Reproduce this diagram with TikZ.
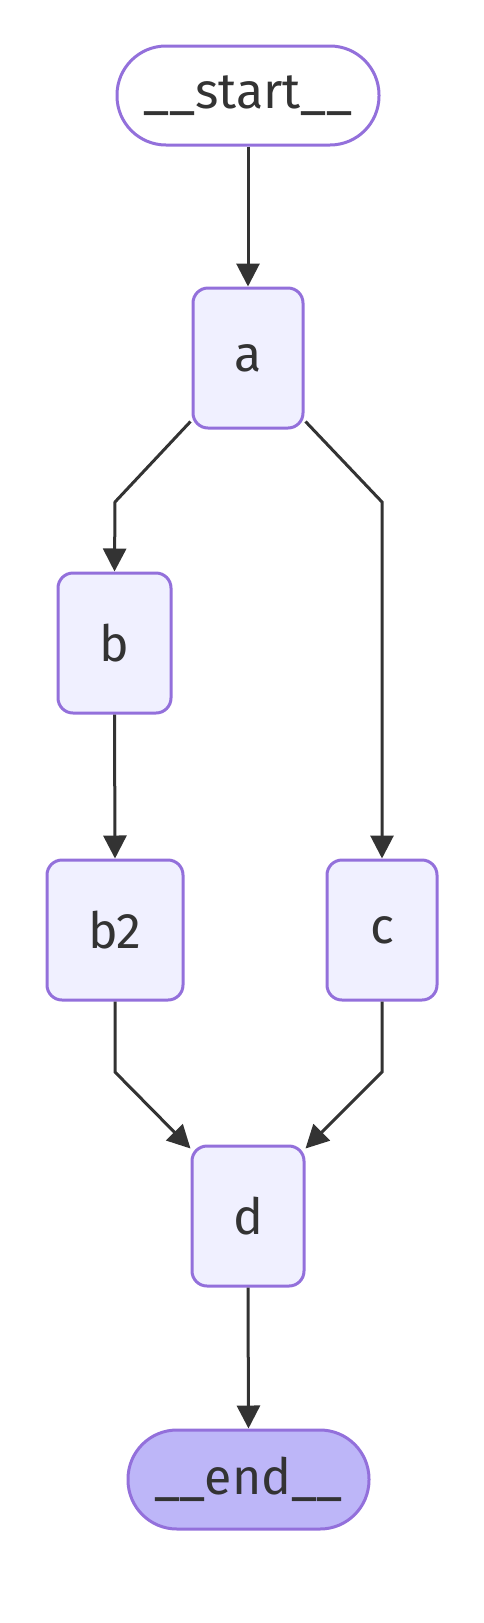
\documentclass[tikz,border=0pt]{standalone}
\usepackage{fontspec}
\setmainfont{Fira Sans}
\usetikzlibrary{arrows.meta}
\definecolor{nodefill}{HTML}{F0F0FF}
\definecolor{nodeline}{HTML}{9370DB}
\definecolor{endfill}{HTML}{BDB6F8}
\definecolor{ink}{HTML}{333333}
\begin{document}
\begin{tikzpicture}[x=1pt,y=-1pt,
  box/.style={draw=nodeline, fill=nodefill, line width=3pt, rounded corners=15pt,
    minimum height=140pt, inner sep=0pt, text=ink, font=\fontsize{50}{56}\selectfont},
  term/.style={draw=nodeline, line width=3pt, rounded corners=49pt,
    minimum height=99pt, inner sep=0pt, text=ink, font=\fontsize{50}{56}\selectfont},
  edge/.style={draw=ink, line width=3pt, -{Triangle[length=23pt,width=23pt]}}]
\useasboundingbox (0,0) rectangle (483,1623);
\node[term, fill=white, minimum width=262pt] (start) at (248,95.5) {\_\_start\_\_};
\node[box, minimum width=110pt] (a) at (248,358) {a};
\node[box, minimum width=113pt] (b) at (114.5,643) {b};
\node[box, minimum width=136pt] (b2) at (115,930) {b2};
\node[box, minimum width=110pt] (c) at (382,930) {c};
\node[box, minimum width=112pt] (d) at (248,1216) {d};
\node[term, fill=endfill, minimum width=241pt] (end) at (248.5,1479.5) {\_\_end\_\_};
\coordinate (ab) at (115,502);
\coordinate (ac) at (382,502);
\coordinate (bd) at (115,1072);
\coordinate (cd) at (382,1072);
\draw[edge] ([shift={(-1,-8)}]a.south west) -- (ab) -- (b.north);
\draw[edge] ([shift={(1,-8)}]a.south east) -- (ac) -- (c.north);
\draw[edge] (start.south) -- (a.north);
\draw[edge] (b.south) -- (b2.north);
\draw[edge] (b2.south) -- (bd) -- ([shift={(0,4)}]d.north west);
\draw[edge] (c.south) -- (cd) -- ([shift={(0,4)}]d.north east);
\draw[edge] (d.south) -- (end.north);
\end{tikzpicture}
\end{document}
